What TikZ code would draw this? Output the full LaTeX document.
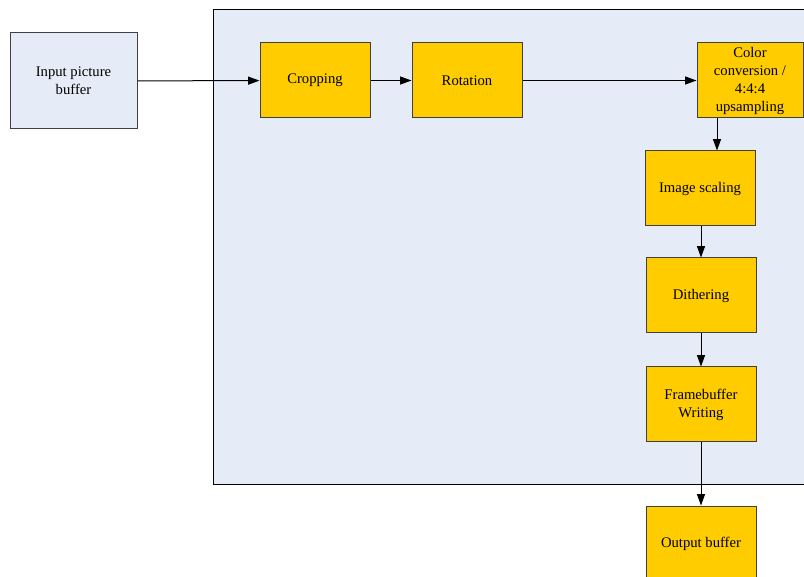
\documentclass[tikz,border=0pt]{standalone}
\usepackage{fontspec}
\setmainfont{Liberation Serif}
\usetikzlibrary{arrows.meta}
\definecolor{panelblue}{HTML}{E6ECF7}
\definecolor{stagegold}{HTML}{FFCC00}
\definecolor{edgegray}{HTML}{404040}
\begin{document}
\begin{tikzpicture}[x=0.75pt,y=-0.75pt,
  stagebox/.style={draw=edgegray,line width=0.75pt,fill=stagegold,align=center,
    minimum width=82.5pt,minimum height=56.25pt,inner sep=0pt,
    font=\fontsize{11}{13.5}\selectfont},
  arr/.style={-{Triangle[length=8.5pt,width=6pt]},line width=0.75pt}]
\useasboundingbox (0,0) rectangle (804,577);
\clip (0,0) rectangle (804,577);

\draw[fill=panelblue,line width=0.75pt] (213,10) rectangle (820,485);

\node[stagebox,fill=panelblue,minimum width=95.25pt,minimum height=72pt] (inbuf) at (73.5,81) {Input picture\\buffer};

\node[stagebox] (crop) at (315,80.5) {Cropping};
\node[stagebox] (rot) at (467,80.5) {Rotation};
\node[stagebox,minimum width=79.5pt] (colconv) at (750,80.5) {Color\\conversion /\\4:4:4\\upsampling};

\node[stagebox] (scale) at (700,188.5) {Image scaling};
\node[stagebox] (dither) at (701,295.5) {Dithering};
\node[stagebox] (fbwrite) at (701,404.5) {Framebuffer\\Writing};
\node[stagebox] (outbuf) at (701,543.5) {Output buffer};

\draw[arr] (inbuf) -- (crop);
\draw[arr] (crop) -- (rot);
\draw[arr] (rot) -- (colconv);
\draw[arr] ([xshift=-24.75pt]colconv.south) coordinate (cc) -- (cc |- scale.north);
\draw[arr] (scale.south -| dither.north) -- (dither.north);
\draw[arr] (dither) -- (fbwrite);
\draw[arr] (fbwrite) -- (outbuf);
\end{tikzpicture}
\end{document}
